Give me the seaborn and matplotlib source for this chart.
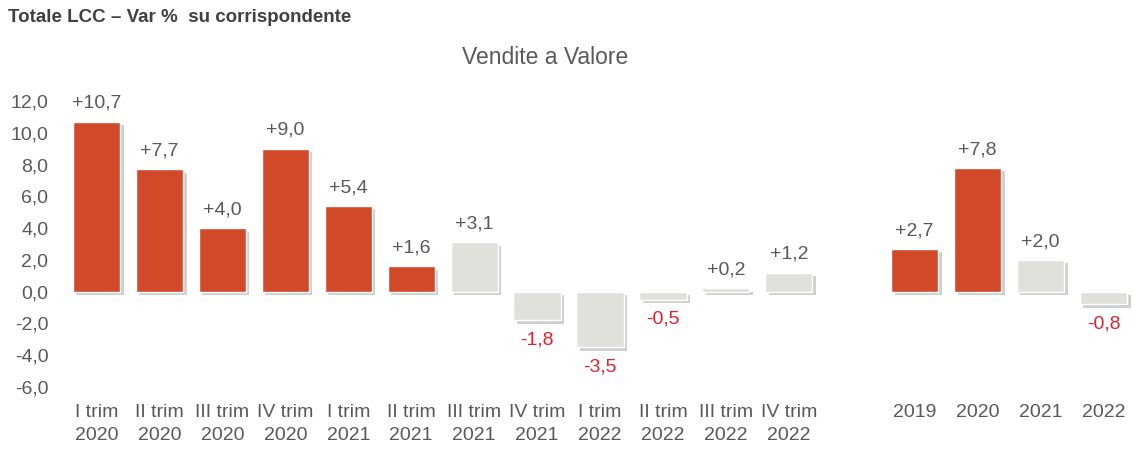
import pandas as pd
import seaborn as sns
import matplotlib.pyplot as plt
import matplotlib.patheffects as pe

# Chart values
quarters = ['I trim\n2020', 'II trim\n2020', 'III trim\n2020', 'IV trim\n2020',
            'I trim\n2021', 'II trim\n2021', 'III trim\n2021', 'IV trim\n2021',
            'I trim\n2022', 'II trim\n2022', 'III trim\n2022', 'IV trim\n2022']
quarter_values = [10.7, 7.7, 4.0, 9.0, 5.4, 1.6, 3.1, -1.8, -3.5, -0.5, 0.2, 1.2]
quarter_groups = ['a'] * 6 + ['b'] * 6

years = ['2019', '2020', '2021', '2022']
year_values = [2.7, 7.8, 2.0, -0.8]
year_groups = ['a', 'a', 'b', 'b']

y_ticks = [12, 10, 8, 6, 4, 2, 0, -2, -4, -6]

ORANGE = '#D2492A'
LIGHT = '#E0E0DC'
TEXT = '#595959'
NEG = '#E2202C'

df = pd.DataFrame({
    'label': quarters + years,
    'value': quarter_values + year_values,
    'group': quarter_groups + year_groups,
})
order = quarters + [' '] + years

sns.set_style('white')
plt.rcParams['font.family'] = ['Liberation Sans', 'DejaVu Sans']

fig = plt.figure(figsize=(11.35, 4.53), dpi=100)
ax = fig.add_axes([0.0573, 0.1457, 0.9427, 0.6313])

sns.barplot(data=df, x='label', y='value', hue='group', order=order,
            palette={'a': ORANGE, 'b': LIGHT}, dodge=False, width=0.75,
            saturation=1, legend=False, ax=ax)

shadow = [pe.SimplePatchShadow(offset=(2.5, -2.5), shadow_rgbFace='#a0a0a0', alpha=0.5),
          pe.Normal()]
for p in ax.patches:
    p.set_path_effects(shadow)

# value labels
for i, lab in enumerate(order):
    row = df[df['label'] == lab]
    if row.empty:
        continue
    v = row['value'].iloc[0]
    txt = ('+' if v >= 0 else '') + f'{v:.1f}'.replace('.', ',')
    if v >= 0:
        ax.annotate(txt, (i, v), xytext=(0, 7), textcoords='offset points',
                    ha='center', va='bottom', fontsize=14, color=TEXT)
    else:
        ax.annotate(txt, (i, v), xytext=(0, -8), textcoords='offset points',
                    ha='center', va='top', fontsize=14, color=NEG)

ax.set_ylim(-6, 12)
ax.set_xlim(-0.5, len(order) - 0.5)
ax.set_yticks(y_ticks)
ax.set_yticklabels([f'{t:.1f}'.replace('.', ',') for t in y_ticks])
ax.tick_params(axis='both', length=0, labelsize=14, labelcolor=TEXT)
ax.tick_params(axis='x', pad=12)
ax.tick_params(axis='y', pad=12)
for t in ax.get_xticklabels():
    t.set_linespacing(1.45)
ax.set_xlabel('')
ax.set_ylabel('')
for s in ax.spines.values():
    s.set_visible(False)

fig.text(0.48, 0.872, 'Vendite a Valore', ha='center', va='center',
         fontsize=16.5, color=TEXT)
fig.text(0.007, 0.962, 'Totale LCC \u2013 Var %  su corrispondente', ha='left',
         va='center', fontsize=13.5, fontweight='bold', color='#404040')

fig.savefig('out.png', dpi=100)
